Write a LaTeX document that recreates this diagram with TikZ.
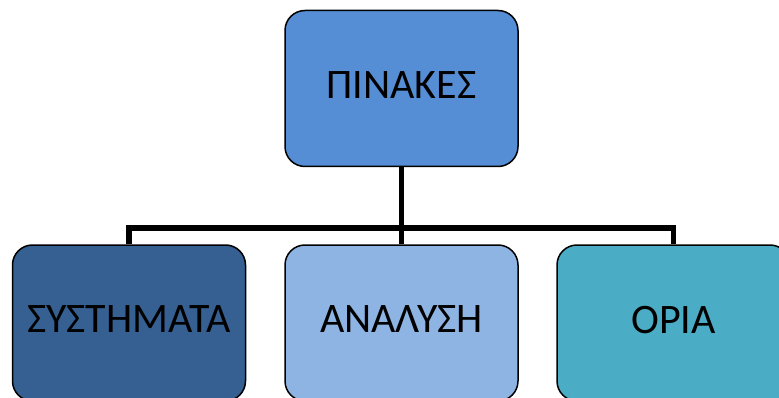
\documentclass[tikz,border=0pt]{standalone}
\usepackage{fontspec}
\setmainfont{Carlito}
\usepackage{tikz}
\usetikzlibrary{positioning,
                calc}               % bus coordinate

\definecolor{topblue}{RGB}{85,142,213}
\definecolor{darkblue}{RGB}{54,96,146}
\definecolor{lightblue}{RGB}{142,180,227}
\definecolor{aqua}{RGB}{75,172,198}

\begin{document}
\begin{tikzpicture}[x=1pt, y=-1pt,
    box/.style={draw=black, line width=1.5pt, rounded corners=20pt,
                minimum width=233pt, minimum height=156pt, inner sep=0pt,
                text depth=7pt, font=\fontsize{42}{48}\selectfont},
    conn/.style={draw=black, line width=5.5pt}]
    \useasboundingbox (0,0) rectangle (779,398);

    \node[box, fill=topblue] (pinakes) at (401.5,88.5) {ΠΙΝΑΚΕΣ};

    \node[box, fill=darkblue] (systimata) at (129,323) {ΣΥΣΤΗΜΑΤΑ};
    \node[box, fill=lightblue] (analysi) at (401.5,323) {ΑΝΑΛΥΣΗ};
    \node[box, fill=aqua] (oria) at (673.5,323) {ΟΡΙΑ};

    % tree connectors
    \coordinate (bus) at ($(pinakes.south)+(0,61)$);
    \draw[conn] (pinakes.south) -- (bus);
    \draw[conn] (bus) -| (systimata.north);
    \draw[conn] (bus) -| (oria.north);
    \draw[conn] (bus) -- (analysi.north);
\end{tikzpicture}
\end{document}
